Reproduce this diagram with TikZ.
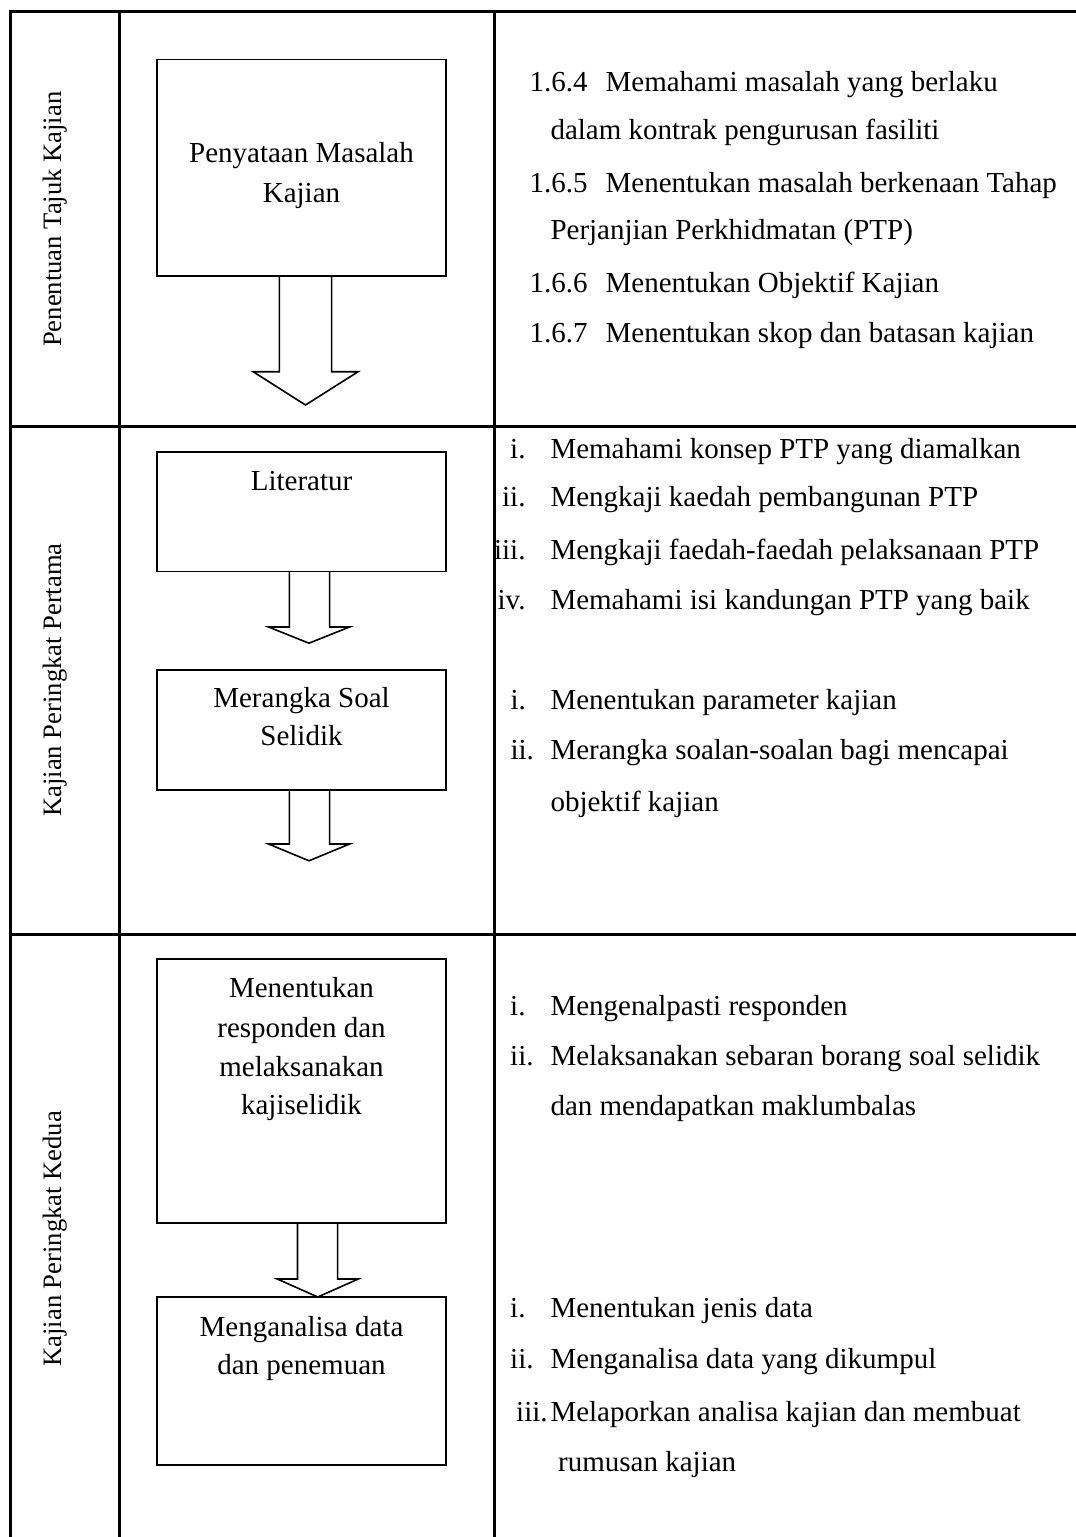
\documentclass[tikz,border=0pt]{standalone}
\usepackage{fontspec}
\setmainfont{Liberation Serif}
\begin{document}
\begin{tikzpicture}[x=1pt,y=-1pt,
  tline/.style={line width=3pt},
  boxst/.style={draw, line width=1.6pt, inner sep=0pt},
  arr/.style={draw, line width=1.6pt, line join=miter},
  txt/.style={inner sep=0pt, font=\fontsize{29}{35}\selectfont},
  lbl/.style={inner sep=0pt, rotate=90, font=\fontsize{26.6}{30}\selectfont}]
\useasboundingbox (0,0) rectangle (1076,1537);
\fill[white] (0,0) rectangle (1076,1537);

% table grid
\draw[tline] (1080,11) -- (10,11) -- (10,1540);
\draw[tline] (119,11) -- (119,1540);
\draw[tline] (494.5,11) -- (494.5,1540);
\draw[tline] (10,426.5) -- (1080,426.5);
\draw[tline] (10,934) -- (1080,934);

% row labels
\node[lbl] (l1) at (55,219.2) {Penentuan Tajuk Kajian};
\node[lbl] (l2) at (55,680) {Kajian Peringkat Pertama};
\node[lbl] (l3) at (55,1238.8) {Kajian Peringkat Kedua};

% boxes
\node[boxst, minimum width=289pt, minimum height=216.4pt] (b1) at (301.5,167.5) {};
\node[boxst, minimum width=289pt, minimum height=119.5pt] (b2) at (301.5,511.75) {};
\node[boxst, minimum width=289pt, minimum height=120.2pt] (b3) at (301.5,730.1) {};
\node[boxst, minimum width=289pt, minimum height=264pt] (b4) at (301.5,1091) {};
\node[boxst, minimum width=289pt, minimum height=168pt] (b5) at (301.5,1381) {};

% box texts
\node[txt, anchor=base] (b1a) at (301.5,162.8) {Penyataan Masalah};
\node[txt, anchor=base] (b1b) at (301.5,202.8) {Kajian};
\node[txt, anchor=base] (b2a) at (301.5,490.8) {Literatur};
\node[txt, anchor=base] (b3a) at (301.5,707.8) {Merangka Soal};
\node[txt, anchor=base] (b3b) at (301.5,745.7) {Selidik};
\node[txt, anchor=base] (b4a) at (301.5,997.1) {Menentukan};
\node[txt, anchor=base] (b4b) at (301.5,1037.5) {responden dan};
\node[txt, anchor=base] (b4c) at (301.5,1076.2) {melaksanakan};
\node[txt, anchor=base] (b4d) at (301.5,1114.9) {kajiselidik};
\node[txt, anchor=base] (b5a) at (301.5,1336.2) {Menganalisa data};
\node[txt, anchor=base] (b5b) at (301.5,1374.5) {dan penemuan};

% block arrows
\draw[arr] (279.3,275.7) -- (279.3,371.7) -- (253.1,371.7) -- (305.5,405) -- (358.1,371.7) -- (331.6,371.7) -- (331.6,275.7);
\draw[arr] (289.3,571.5) -- (289.3,627) -- (268.6,627) -- (309,643.2) -- (349.5,627) -- (329.6,627) -- (329.6,571.5);
\draw[arr] (289.3,790.2) -- (289.3,844) -- (268.6,844) -- (309,860.8) -- (349.5,844) -- (329.6,844) -- (329.6,790.2);
\draw[arr] (297.5,1223) -- (297.5,1279) -- (277.3,1279) -- (317.7,1297) -- (358.3,1279) -- (337.6,1279) -- (337.6,1223);

% right column, section 1
\node[txt, anchor=base west] (n1) at (529.4,91.2) {1.6.4};
\node[txt, anchor=base west] (t1) at (605.4,91.2) {Memahami masalah yang berlaku};
\node[txt, anchor=base west] (t1b) at (550.3,139.5) {dalam kontrak pengurusan fasiliti};
\node[txt, anchor=base west] (n2) at (529.4,192.8) {1.6.5};
\node[txt, anchor=base west] (t2) at (605.4,192.8) {Menentukan masalah berkenaan Tahap};
\node[txt, anchor=base west] (t2b) at (550.3,239.5) {Perjanjian Perkhidmatan (PTP)};
\node[txt, anchor=base west] (n3) at (529.4,292.8) {1.6.6};
\node[txt, anchor=base west] (t3) at (605.4,292.8) {Menentukan Objektif Kajian};
\node[txt, anchor=base west] (n4) at (529.4,342.8) {1.6.7};
\node[txt, anchor=base west] (t4) at (605.4,342.8) {Menentukan skop dan batasan kajian};

% section 2a
\node[txt, anchor=base east] (r1) at (525.7,458.1) {i.};
\node[txt, anchor=base west] (s1) at (550.3,458.1) {Memahami konsep PTP yang diamalkan};
\node[txt, anchor=base east] (r2) at (525.7,506.3) {ii.};
\node[txt, anchor=base west] (s2) at (550.3,506.3) {Mengkaji kaedah pembangunan PTP};
\node[txt, anchor=base east] (r3) at (525.7,559) {iii.};
\node[txt, anchor=base west] (s3) at (550.3,559) {Mengkaji faedah-faedah pelaksanaan PTP};
\node[txt, anchor=base east] (r4) at (525.7,609) {iv.};
\node[txt, anchor=base west] (s4) at (550.3,609) {Memahami isi kandungan PTP yang baik};

% section 2b
\node[txt, anchor=base west] (p1) at (510.4,709.5) {i.};
\node[txt, anchor=base west] (q1) at (550.3,709.5) {Menentukan parameter kajian};
\node[txt, anchor=base west] (p2) at (510.4,759.5) {ii.};
\node[txt, anchor=base west] (q2) at (550.3,759.5) {Merangka soalan-soalan bagi mencapai};
\node[txt, anchor=base west] (q2b) at (550.3,811) {objektif kajian};

% section 3a
\node[txt, anchor=base west] (u1) at (510,1015.5) {i.};
\node[txt, anchor=base west] (v1) at (550.3,1015.5) {Mengenalpasti responden};
\node[txt, anchor=base west] (u2) at (510,1065.2) {ii.};
\node[txt, anchor=base west] (v2) at (550.3,1065.2) {Melaksanakan sebaran borang soal selidik};
\node[txt, anchor=base west] (v2b) at (550.3,1115) {dan mendapatkan maklumbalas};

% section 3b
\node[txt, anchor=base west] (w1) at (510,1317.2) {i.};
\node[txt, anchor=base west] (z1) at (550.3,1317.2) {Menentukan jenis data};
\node[txt, anchor=base west] (w2) at (510,1368.8) {ii.};
\node[txt, anchor=base west] (z2) at (550.3,1368.8) {Menganalisa data yang dikumpul};
\node[txt, anchor=base west] (w3) at (516,1421) {iii.};
\node[txt, anchor=base west] (z3) at (550.3,1421) {Melaporkan analisa kajian dan membuat};
\node[txt, anchor=base west] (z3b) at (558,1471.5) {rumusan kajian};
\end{tikzpicture}
\end{document}
